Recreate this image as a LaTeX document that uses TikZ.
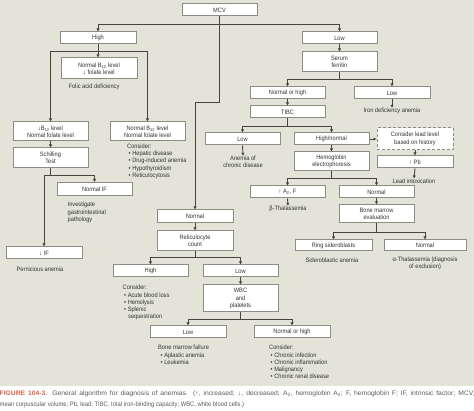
\documentclass[tikz,border=0pt]{standalone}
\usepackage{fontspec}
\setmainfont{Liberation Sans}[FakeStretch=0.9]
\newfontfamily\capwide{Liberation Sans}[FakeStretch=1.04]
\usetikzlibrary{arrows.meta}
\definecolor{bg}{RGB}{227,228,215}
\definecolor{boxc}{RGB}{140,140,132}
\definecolor{linec}{RGB}{70,70,58}
\definecolor{txt}{RGB}{50,50,45}
\definecolor{capred}{RGB}{226,96,70}
\definecolor{capgrey}{RGB}{90,90,90}
\newcommand\dfont{\fontsize{6.3}{7.3}\selectfont}
\newcommand\cfont{\fontsize{6.5}{11}\selectfont}
\tikzset{
  box/.style={draw=boxc, fill=white, line width=1pt, inner sep=0pt, align=center, text=txt, font=\dfont, minimum width=75pt, minimum height=12pt},
  dbox/.style={box, dash pattern=on 3pt off 2pt},
  conn/.style={draw=linec, line width=0.9pt},
  arr/.style={conn, -{Latex[length=3pt,width=3.4pt]}},
  lbl/.style={text=txt, font=\dfont, align=center, inner sep=0pt},
  lst/.style={lbl, align=left, anchor=north west}
}
\begin{document}
\begin{tikzpicture}[x=1pt,y=-1pt]
\clip (0,0) rectangle (474,411);
\fill[bg] (0,0) rectangle (474,386);

% boxes
\node[box] (mcv) at (219.5,10) {MCV};
\node[box, minimum width=76pt] (high) at (98,38) {High};
\node[box] (low) at (339.5,38) {Low};
\node[box, minimum width=76pt, minimum height=21pt] (nbdf) at (99,68.5) {Normal B\textsubscript{12} level\\↓ folate level};
\node[box, minimum height=19pt] (dbnf) at (50.5,131.5) {↓B\textsubscript{12} level\\Normal folate level};
\node[box, minimum height=19pt] (nbnf) at (147.5,131.5) {Normal B\textsubscript{12} level\\Normal folate level};
\node[box, minimum height=20pt] (schilling) at (50.5,158) {Schilling\\Test};
\node[box, minimum height=13pt] (normif) at (94.5,189) {Normal IF};
\node[box, minimum width=76pt] (dif) at (44,253) {↓ IF};
\node[box, minimum width=76pt, minimum height=13pt] (normal) at (195,216.5) {Normal};
\node[box, minimum width=76pt, minimum height=20pt] (retic) at (195,241) {Reticulocyte\\count};
\node[box] (rhigh) at (150.5,271) {High};
\node[box] (rlow) at (240.5,271) {Low};
\node[box, minimum height=27pt] (wbc) at (240.5,298.5) {WBC\\and\\platelets};
\node[box, minimum width=76pt] (wlow) at (188,332) {Low};
\node[box, minimum width=76pt] (wnh) at (292,332) {Normal or high};
\node[box, minimum height=20pt] (ferritin) at (339.5,62) {Serum\\ferritin};
\node[box] (fnh) at (287.5,93) {Normal or high};
\node[box, minimum width=76pt] (flow) at (392,93) {Low};
\node[box] (tibc) at (287.5,112) {TIBC};
\node[box] (tlow) at (242.5,139) {Low};
\node[box] (thn) at (331.5,139) {High/normal};
\node[dbox, minimum width=76pt, minimum height=22pt] (lead) at (415,139) {Consider lead level\\based on history};
\node[box, minimum width=76pt] (pb) at (415,162) {↑ Pb};
\node[box, minimum height=19pt] (hbe) at (331.5,161.5) {Hemoglobin\\electrophoresis};
\node[box] (a2f) at (287.5,192) {↑ A\textsubscript{2}, F};
\node[box] (hnorm) at (376.5,192) {Normal};
\node[box, minimum height=18pt] (bme) at (376.5,214) {Bone marrow\\evaluation};
\node[box, minimum width=77pt, minimum height=11pt] (ring) at (333.5,245.5) {Ring sideroblasts};
\node[box, minimum width=82pt, minimum height=11pt] (bnorm) at (425,245.5) {Normal};

% labels
\node[lbl] (folic) at (94,87) {Folic acid deficiency};
\node[lst] (cons1) at (127,143.5) {Consider:\\\hspace*{1.5pt}• Hepatic disease\\\hspace*{1.5pt}• Drug-induced anemia\\\hspace*{1.5pt}• Hypothyroidism\\\hspace*{1.5pt}• Reticulocytosis};
\node[lst] (invest) at (67.5,202) {Investigate\\gastrointestinal\\pathology};
\node[lbl] (pern) at (40,269) {Pernicious anemia};
\node[lst] (cons2) at (122.5,285) {Consider:\\\hspace*{1.5pt}• Acute blood loss\\\hspace*{1.5pt}• Hemolysis\\\hspace*{1.5pt}• Splenic\\\hspace*{5.5pt}sequestration};
\node[lst] (bmf) at (158,345) {Bone marrow failure\\\hspace*{2.5pt}• Aplastic anemia\\\hspace*{2.5pt}• Leukemia};
\node[lst] (cons3) at (269,345) {Consider:\\\hspace*{1.5pt}• Chronic infection\\\hspace*{1.5pt}• Chronic inflammation\\\hspace*{1.5pt}• Malignancy\\\hspace*{1.5pt}• Chronic renal disease};
\node[lbl] (irondef) at (392,111) {Iron deficiency anemia};
\node[lbl] (acd) at (243,162) {Anemia of\\chronic disease};
\node[lbl] (leadint) at (414,181) {Lead intoxication};
\node[lbl] (betathal) at (288,209) {β-Thalassemia};
\node[lbl] (sidero) at (332,260) {Sideroblastic anemia};
\node[lbl] (alphathal) at (425,263.5) {α-Thalassemia (diagnosis\\of exclusion)};

% junctions
\coordinate (j1) at (219.5,24);
\coordinate (j2) at (219.5,102);
\coordinate (j3) at (98,51);
\coordinate (j4) at (50.5,175);
\coordinate (j5) at (195,257);
\coordinate (j6) at (240.5,319);
\coordinate (j7) at (339.5,79);
\coordinate (j8) at (287.5,126);
\coordinate (j9) at (331.5,178);
\coordinate (j10) at (376.5,232);

% connectors
\draw[arr] (mcv.south) -- (j1) -| (high.north);
\draw[arr] (j1) -| (low.north);
\draw[arr] (j1) -- (j2) -| (normal.north);
\draw[arr] (high.south) -- (high.south |- nbdf.north);
\draw[conn] (high.south) -- (j3);
\draw[arr] (j3) -| (dbnf.north);
\draw[arr] (j3) -| (nbnf.north);
\draw[arr] (dbnf.south) -- (schilling.north);
\draw[conn] (schilling.south) -- (j4);
\draw[arr] (j4) -| (normif.north);
\draw[arr] (j4) -| (dif.north);
\draw[arr] (normal.south) -- (retic.north);
\draw[conn] (retic.south) -- (j5);
\draw[arr] (j5) -| (rhigh.north);
\draw[arr] (j5) -| (rlow.north);
\draw[arr] (rlow.south) -- (wbc.north);
\draw[conn] (wbc.south) -- (j6);
\draw[arr] (j6) -| (wlow.north);
\draw[arr] (j6) -| (wnh.north);
\draw[arr] (low.south) -- (ferritin.north);
\draw[conn] (ferritin.south) -- (j7);
\draw[arr] (j7) -| (fnh.north);
\draw[arr] (j7) -| (flow.north);
\draw[arr] (flow.south) -- (irondef.north);
\draw[arr] (fnh.south) -- (tibc.north);
\draw[conn] (tibc.south) -- (j8);
\draw[arr] (j8) -| (tlow.north);
\draw[arr] (j8) -| (thn.north);
\draw[arr] (tlow.south) -- (acd.north);
\draw[arr] (thn.east) -- (lead.west);
\draw[arr] (lead.south) -- (pb.north);
\draw[arr] (pb.south) -- (leadint.north);
\draw[arr] (thn.south) -- (hbe.north);
\draw[conn] (hbe.south) -- (j9);
\draw[arr] (j9) -| (a2f.north);
\draw[arr] (j9) -| (hnorm.north);
\draw[arr] (a2f.south) -- (betathal.north);
\draw[arr] (hnorm.south) -- (bme.north);
\draw[conn] (bme.south) -- (j10);
\draw[arr] (j10) -| (ring.north);
\draw[arr] (j10) -| (bnorm.north);

% caption
\node[anchor=base west, inner sep=0pt, font=\capwide\cfont, text=capgrey] (cap1) at (-0.5,395.5)
  {\makebox[475pt][s]{\textcolor{capred}{\bfseries FIGURE 104-3.} General algorithm for diagnosis of anemias. (↑, increased; ↓, decreased; A\textsubscript{2}, hemoglobin A\textsubscript{2}; F, hemoglobin F; IF, intrinsic factor; MCV,}};
\node[anchor=base west, inner sep=0pt, font=\cfont, text=capgrey] (cap2) at (-0.5,406.5)
  {mean corpuscular volume; Pb, lead; TIBC, total iron-binding capacity; WBC, white blood cells.)};
\end{tikzpicture}
\end{document}
